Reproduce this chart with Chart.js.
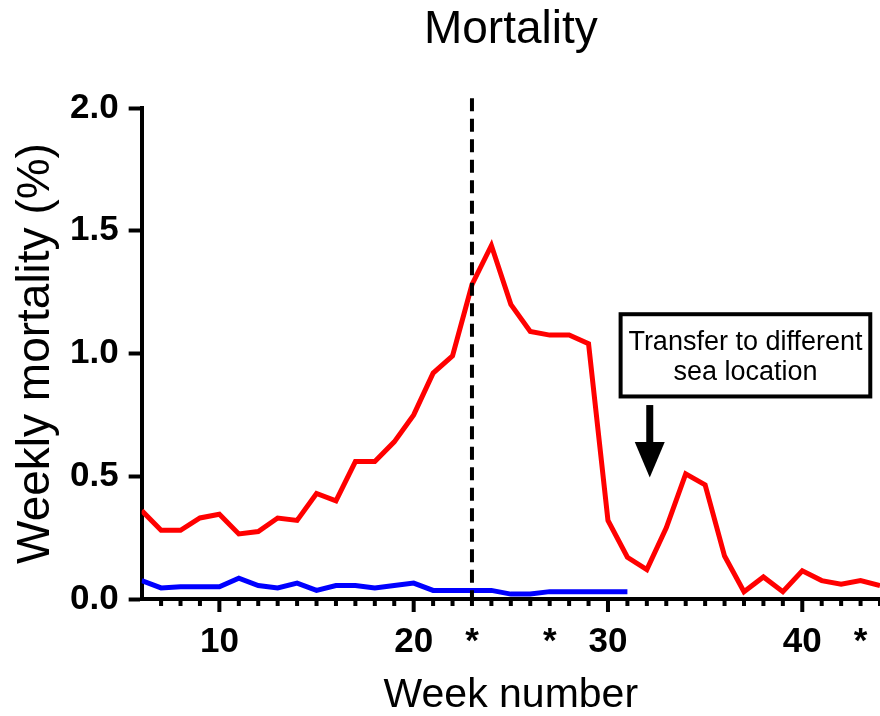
<!DOCTYPE html>
<html>
<head>
<meta charset="utf-8">
<script src="https://cdn.jsdelivr.net/npm/chart.js@4"></script>
<style>
  body { margin: 0; background: #fff; }
  #wrap { width: 880px; height: 716px; }
</style>
</head>
<body>
<div id="wrap"><canvas id="myChart"></canvas></div>
<script>
// weeks 6..44
const weeks = [6, 7, 8, 9, 10, 11, 12, 13, 14, 15, 16, 17, 18, 19, 20, 21, 22, 23, 24, 25,
  26, 27, 28, 29, 30, 31, 32, 33, 34, 35, 36, 37, 38, 39, 40, 41, 42, 43, 44];
const mortalityRed = [0.36, 0.28, 0.28, 0.33, 0.345, 0.265, 0.275, 0.33, 0.32, 0.43,
  0.40, 0.56, 0.56, 0.64, 0.75, 0.92, 0.99, 1.28, 1.44, 1.20,
  1.09, 1.075, 1.075, 1.04, 0.32, 0.17, 0.12, 0.29, 0.51, 0.465,
  0.175, 0.03, 0.09, 0.03, 0.115, 0.075, 0.06, 0.075, 0.055];
// blue line stops at week 31
const mortalityBlue = [0.075, 0.045, 0.05, 0.05, 0.05, 0.085, 0.055, 0.045, 0.065, 0.035,
  0.055, 0.055, 0.045, 0.055, 0.065, 0.035, 0.035, 0.035, 0.035, 0.02,
  0.02, 0.03, 0.03, 0.03, 0.03, 0.03];

const labeledWeeks = [10, 20, 30, 40];
const starWeeks = [23, 27, 43];
const yTicks = [0, 0.5, 1.0, 1.5, 2.0];
const dashedWeek = 23;
const noteLines = ["Transfer to different", "sea location"];

const ctx = document.getElementById("myChart");

// minor / major tick marks, dashed line, note box and arrow
const extras = {
  id: "extras",
  afterDatasetsDraw(chart) {
    const c = chart.ctx;
    const x = chart.scales.x;
    const y = chart.scales.y;
    const px = x.getPixelForValue(dashedWeek);
    c.save();
    c.strokeStyle = "#000";
    c.lineWidth = 4;
    c.setLineDash([13, 7.5]);
    c.beginPath();
    c.moveTo(px, y.getPixelForValue(2.04));
    c.lineTo(px, y.getPixelForValue(0));
    c.stroke();
    c.restore();
  },
  afterDraw(chart) {
    const c = chart.ctx;
    const x = chart.scales.x;
    const y = chart.scales.y;
    const bottom = chart.chartArea.bottom;
    c.save();
    c.fillStyle = "#000";
    for (let w = 7; w <= 44; w++) {
      const p = x.getPixelForValue(w);
      const len = w % 10 === 0 ? 13 : 7;
      c.fillRect(p - 2, bottom, 4, len);
    }

    // note box
    const left = x.getPixelForValue(30.65);
    const right = x.getPixelForValue(43.5);
    const top = y.getPixelForValue(1.16);
    const bot = y.getPixelForValue(0.825);
    c.lineWidth = 4;
    c.strokeStyle = "#000";
    c.strokeRect(left, top, right - left, bot - top);
    c.font = "27px 'Liberation Sans', Arial, sans-serif";
    c.textAlign = "center";
    c.textBaseline = "alphabetic";
    const cx = (left + right) / 2;
    c.fillText(noteLines[0], cx, top + 36);
    c.fillText(noteLines[1], cx, top + 66);

    // arrow
    const ax = x.getPixelForValue(32.15);
    const shaftTop = y.getPixelForValue(0.79);
    const headTop = y.getPixelForValue(0.64);
    const tip = y.getPixelForValue(0.495);
    c.fillRect(ax - 3.5, shaftTop, 7, headTop - shaftTop + 1);
    c.beginPath();
    c.moveTo(ax - 15, headTop);
    c.lineTo(ax + 15, headTop);
    c.lineTo(ax, tip);
    c.closePath();
    c.fill();
    c.restore();
  },
};

Chart.defaults.font.family = "'Liberation Sans', Arial, sans-serif";
Chart.defaults.color = "#000";

let obj = new Chart(ctx, {
  type: "line",
  data: {
    datasets: [
      {
        label: "Red",
        data: weeks.map((w, i) => ({ x: w, y: mortalityRed[i] })),
        borderColor: "#ff0000",
        borderWidth: 5,
        pointRadius: 0,
        tension: 0,
      },
      {
        label: "Blue",
        data: mortalityBlue.map((v, i) => ({ x: weeks[i], y: v })),
        borderColor: "#0000ff",
        borderWidth: 5,
        pointRadius: 0,
        tension: 0,
      },
    ],
  },
  options: {
    responsive: true,
    maintainAspectRatio: false,
    animation: false,
    layout: {
      padding: { left: 0, right: -2, top: 0, bottom: 0 },
    },
    plugins: {
      legend: { display: false },
      tooltip: { enabled: false },
      title: {
        display: true,
        text: "Mortality",
        fullSize: false,
        font: { size: 46, weight: "normal", lineHeight: 1 },
        padding: { top: 7, bottom: 55 },
      },
    },
    scales: {
      x: {
        type: "linear",
        min: 6,
        max: 44,
        grid: {
          drawOnChartArea: false,
          tickLength: 22,
          tickColor: "rgba(0,0,0,0)",
        },
        border: { display: true, width: 4, color: "#000" },
        ticks: {
          stepSize: 1,
          autoSkip: false,
          maxRotation: 0,
          padding: 0,
          font: { size: 35, weight: "bold" },
          callback: (v) => {
            if (labeledWeeks.includes(v)) return String(v);
            if (starWeeks.includes(v)) return "*";
            return "";
          },
        },
        title: {
          display: true,
          text: "Week number",
          font: { size: 41, weight: "normal", lineHeight: 1 },
          padding: { top: 12, bottom: 0 },
        },
      },
      y: {
        min: 0,
        max: 2,
        afterBuildTicks: (axis) => {
          axis.ticks = yTicks.map((v) => ({ value: v }));
        },
        grid: {
          drawOnChartArea: false,
          tickLength: 13,
          tickWidth: 4,
          tickColor: "#000",
        },
        border: { display: true, width: 4, color: "#000" },
        ticks: {
          padding: 10,
          font: { size: 35, weight: "bold" },
          callback: (v) => Number(v).toFixed(1),
        },
        title: {
          display: true,
          text: "Weekly mortality (%)",
          font: { size: 46, weight: "normal", lineHeight: 1 },
          padding: { top: 13, bottom: 1 },
        },
      },
    },
  },
  plugins: [extras],
});
</script>
</body>
</html>
